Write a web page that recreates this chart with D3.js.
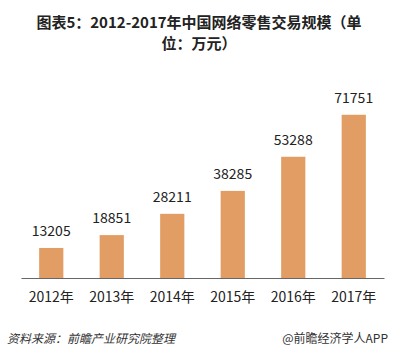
<!DOCTYPE html>
<html><head><meta charset="utf-8">
<script src="https://cdn.jsdelivr.net/npm/d3@7"></script>
<style>body{margin:0;background:#fff;} svg{display:block;}</style>
</head><body>
<script>
const categories = ["2012年","2013年","2014年","2015年","2016年","2017年"];
const values = [13205,18851,28211,38285,53288,71751];
const titleLines = ["图表5：2012-2017年中国网络零售交易规模（单","位：万元）"];
const sourceText = "资料来源：前瞻产业研究院整理";
const creditText = "@前瞻经济学人APP";

const W = 397, H = 357;
const svg = d3.select("body").append("svg").attr("width", W).attr("height", H);
const font = "'Noto Sans CJK SC', 'Noto Sans', sans-serif";

svg.selectAll("text.title").data(titleLines).join("text")
  .attr("class", "title")
  .attr("x", 199).attr("y", (d,i) => 28 + i*21)
  .attr("text-anchor", "middle")
  .attr("font-family", font).attr("font-weight", "bold").attr("font-size", 15)
  .attr("fill", "#222").text(d => d);

const x = d3.scaleBand().domain(categories).range([21, 384]).paddingInner(0.6).paddingOuter(0.3);
const y = d3.scaleLinear().domain([0, 80000]).range([278, 96]);

svg.selectAll("rect.bar").data(values).join("rect")
  .attr("class", "bar")
  .attr("x", (d,i) => x(categories[i])).attr("width", x.bandwidth())
  .attr("y", d => y(d)).attr("height", d => y(0) - y(d))
  .attr("fill", "#E19D63");

svg.selectAll("text.val").data(values).join("text")
  .attr("class", "val")
  .attr("x", (d,i) => x(categories[i]) + x.bandwidth()/2)
  .attr("y", d => y(d) - 12)
  .attr("text-anchor", "middle")
  .attr("font-family", font).attr("font-size", 14).attr("fill", "#222")
  .text(d => d);

const axis = d3.axisBottom(x).tickSize(0).tickPadding(14);
const g = svg.append("g").attr("transform", `translate(0,${y(0)})`).call(axis);
g.select(".domain").attr("stroke", "#666").attr("stroke-width", 1);
g.selectAll("text").attr("font-family", font).attr("font-size", 14).attr("fill", "#222");

svg.append("text").attr("x", 7).attr("y", 343)
  .attr("font-family", font).attr("font-size", 12).attr("font-style", "italic")
  .attr("fill", "#333").text(sourceText);
svg.append("text").attr("x", 388).attr("y", 343).attr("text-anchor", "end")
  .attr("font-family", font).attr("font-size", 12)
  .attr("fill", "#333").text(creditText);
</script>
</body></html>
